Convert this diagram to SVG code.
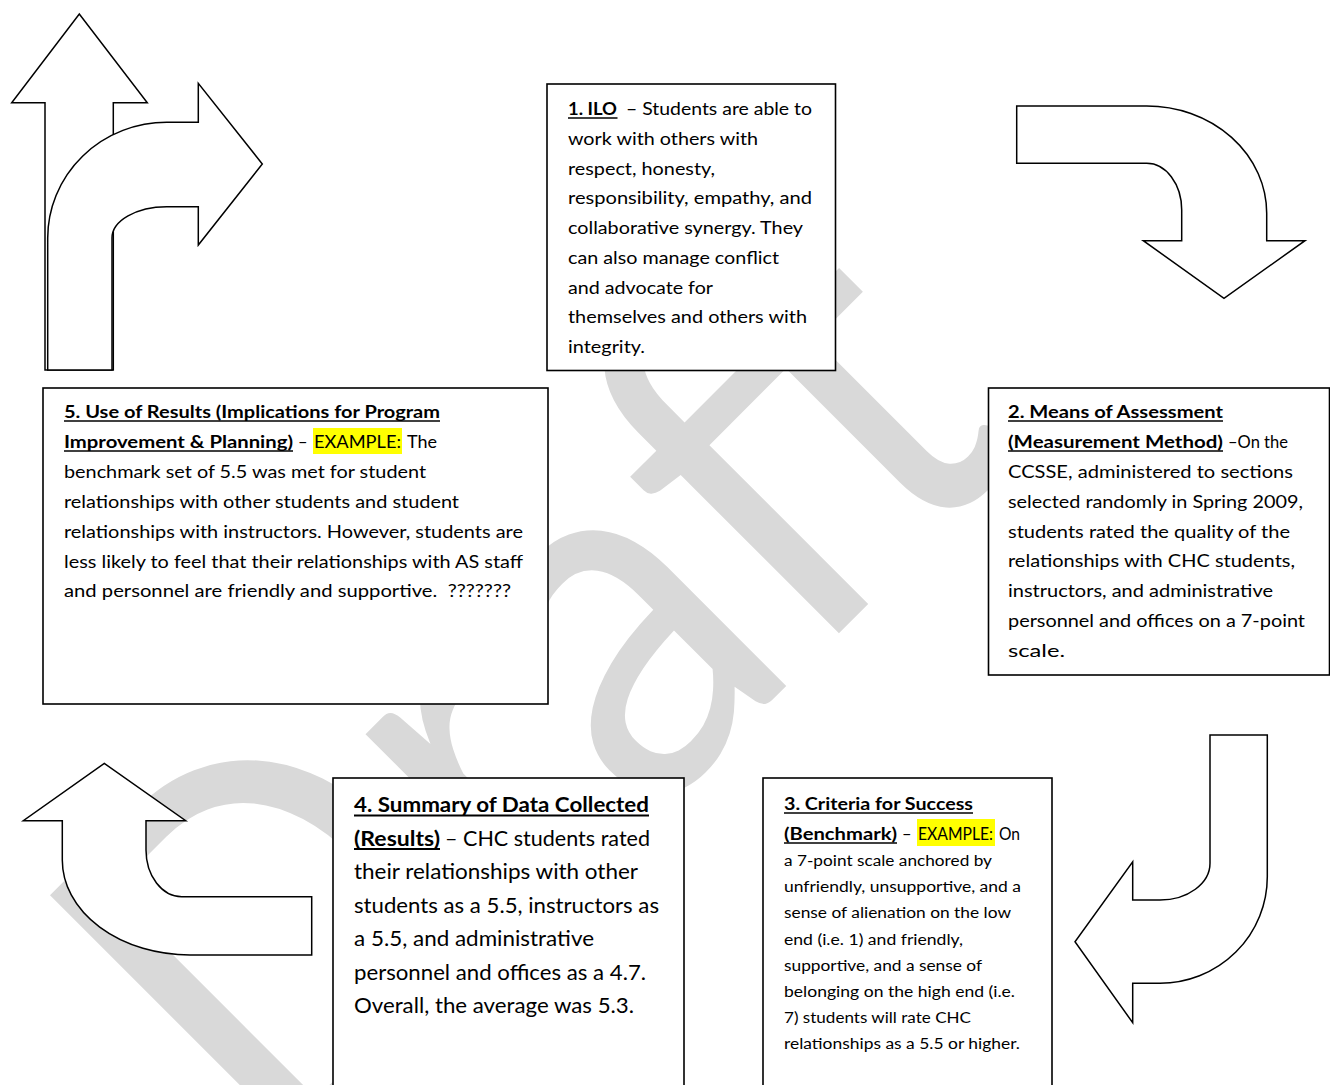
<svg xmlns="http://www.w3.org/2000/svg" width="1330" height="1085" viewBox="0 0 1330 1085">
<style>
.t{font-family:Lato,"Open Sans","Liberation Sans",sans-serif;font-size:16.5px;fill:#000;white-space:pre}
.b{font-weight:bold}
.l{font-size:20.5px}
.s{font-size:14.6px}
.box{fill:#fff;stroke:#000;stroke-width:1.6}
.ul{stroke:#000;stroke-width:1.4}
.ulw{stroke:#000;stroke-width:1.8}
.hl{fill:#ffff00}
.arr{fill:#fff;stroke:#000;stroke-width:1.5;stroke-linejoin:miter}
.wm{font-family:Lato,"Open Sans",sans-serif;font-size:520px;fill:#d9d9d9}
</style>
<rect width="1330" height="1085" fill="#fff"/>
<g id="watermark">
<text class="wm" transform="rotate(-45)" x="-640" y="1041" textLength="1054" lengthAdjust="spacingAndGlyphs">Draft</text>
</g>
<g id="connectors">
<path id="arrow-up" class="arr" d="M45,370 L45,102.7 L11.7,102.7 L79.3,14 L147.3,102.7 L113.3,102.7 L113.3,370 Z"/>
<path id="arrow-right-turn" class="arr" d="M47.7,370 L47.7,238 A119,115.7 0 0 1 166.7,122.3 L198.3,122.3 L198.3,83.3 L262.3,164 L198.3,245 L198.3,206.7 L166.7,206.7 A54.7,31.3 0 0 0 112,238 L112,370 Z"/>
<path id="arrow-top-right" class="arr" d="M1016.7,106 L1146.7,106 A120,107.3 0 0 1 1266.7,213.3 L1266.7,240.7 L1305,240.7 L1224,298.3 L1143.3,240.7 L1181.7,240.7 L1181.7,210 A35,46.7 0 0 0 1146.7,163.3 L1016.7,163.3 Z"/>
<path id="arrow-bottom-right" class="arr" d="M1210,735 L1267.3,735 L1267.3,876.7 A107.3,106.7 0 0 1 1160,983.3 L1132.7,983.3 L1132.7,1022.7 L1075,941.7 L1132.7,861.7 L1132.7,900 L1160,900 A50,36.7 0 0 0 1210,863.3 Z"/>
<path id="arrow-bottom-left" class="arr" d="M311.7,896.7 L181.7,896.7 A35.7,46.7 0 0 1 146,850 L146,820.7 L185.7,820.7 L104.3,763.3 L23.3,820.7 L62.3,820.7 L62.3,860 A127.7,95 0 0 0 190,955 L311.7,955 Z"/>
</g>
<g id="node-1-ilo">
<rect class="box" x="547" y="84" width="288.5" height="286.5"/>
<text class="t b" x="568" y="115" textLength="49" lengthAdjust="spacingAndGlyphs">1. ILO</text>
<line class="ul" x1="568" y1="118" x2="617.5" y2="118"/>
<text class="t" x="626" y="115" textLength="186" lengthAdjust="spacingAndGlyphs">– Students are able to</text>
<text class="t" x="568" y="144.8" textLength="190" lengthAdjust="spacingAndGlyphs">work with others with</text>
<text class="t" x="568" y="174.5" textLength="147" lengthAdjust="spacingAndGlyphs">respect, honesty,</text>
<text class="t" x="568" y="204.3" textLength="244" lengthAdjust="spacingAndGlyphs">responsibility, empathy, and</text>
<text class="t" x="568" y="234" textLength="235" lengthAdjust="spacingAndGlyphs">collaborative synergy. They</text>
<text class="t" x="568" y="263.8" textLength="211" lengthAdjust="spacingAndGlyphs">can also manage conflict</text>
<text class="t" x="568" y="293.5" textLength="145" lengthAdjust="spacingAndGlyphs">and advocate for</text>
<text class="t" x="568" y="323.3" textLength="239" lengthAdjust="spacingAndGlyphs">themselves and others with</text>
<text class="t" x="568" y="353" textLength="77" lengthAdjust="spacingAndGlyphs">integrity.</text>
</g>
<g id="node-2-means">
<rect class="box" x="988.5" y="388" width="341" height="287"/>
<text class="t b" x="1008" y="418" textLength="215" lengthAdjust="spacingAndGlyphs">2. Means of Assessment</text>
<line class="ul" x1="1008" y1="421" x2="1223" y2="421"/>
<text class="t b" x="1008" y="448" textLength="215" lengthAdjust="spacingAndGlyphs">(Measurement Method)</text>
<line class="ul" x1="1008" y1="451" x2="1223" y2="451"/>
<text class="t" x="1228" y="448" textLength="60" lengthAdjust="spacingAndGlyphs">–On the</text>
<text class="t" x="1008" y="478" textLength="285" lengthAdjust="spacingAndGlyphs">CCSSE, administered to sections</text>
<text class="t" x="1008" y="507.8" textLength="295" lengthAdjust="spacingAndGlyphs">selected randomly in Spring 2009,</text>
<text class="t" x="1008" y="537.5" textLength="282" lengthAdjust="spacingAndGlyphs">students rated the quality of the</text>
<text class="t" x="1008" y="567.3" textLength="287" lengthAdjust="spacingAndGlyphs">relationships with CHC students,</text>
<text class="t" x="1008" y="597" textLength="265" lengthAdjust="spacingAndGlyphs">instructors, and administrative</text>
<text class="t" x="1008" y="626.8" textLength="297" lengthAdjust="spacingAndGlyphs">personnel and offices on a 7-point</text>
<text class="t" x="1008" y="656.5" textLength="57" lengthAdjust="spacingAndGlyphs">scale.</text>
</g>
<g id="node-3-criteria">
<rect class="box" x="763" y="778" width="289" height="320"/>
<text class="t b" x="784" y="810" textLength="189" lengthAdjust="spacingAndGlyphs">3. Criteria for Success</text>
<line class="ul" x1="784" y1="813" x2="973" y2="813"/>
<text class="t b" x="784" y="840" textLength="113" lengthAdjust="spacingAndGlyphs">(Benchmark)</text>
<line class="ul" x1="784" y1="843" x2="897" y2="843"/>
<text class="t" x="902" y="840">–</text>
<rect class="hl" x="917" y="819" width="78" height="27"/>
<text class="t" x="918" y="840" textLength="75" lengthAdjust="spacingAndGlyphs">EXAMPLE:</text>
<text class="t" x="999" y="840" textLength="21" lengthAdjust="spacingAndGlyphs">On</text>
<text class="t s" x="784" y="866" textLength="208" lengthAdjust="spacingAndGlyphs">a 7-point scale anchored by</text>
<text class="t s" x="784" y="892" textLength="237" lengthAdjust="spacingAndGlyphs">unfriendly, unsupportive, and a</text>
<text class="t s" x="784" y="918" textLength="227" lengthAdjust="spacingAndGlyphs">sense of alienation on the low</text>
<text class="t s" x="784" y="945" textLength="179" lengthAdjust="spacingAndGlyphs">end (i.e. 1) and friendly,</text>
<text class="t s" x="784" y="971" textLength="198" lengthAdjust="spacingAndGlyphs">supportive, and a sense of</text>
<text class="t s" x="784" y="997" textLength="231" lengthAdjust="spacingAndGlyphs">belonging on the high end (i.e.</text>
<text class="t s" x="784" y="1023" textLength="187" lengthAdjust="spacingAndGlyphs">7) students will rate CHC</text>
<text class="t s" x="784" y="1049" textLength="236" lengthAdjust="spacingAndGlyphs">relationships as a 5.5 or higher.</text>
</g>
<g id="node-4-summary">
<rect class="box" x="333" y="778" width="351" height="320"/>
<text class="t l b" x="354" y="812" textLength="295" lengthAdjust="spacingAndGlyphs">4. Summary of Data Collected</text>
<line class="ulw" x1="354" y1="815.5" x2="649" y2="815.5"/>
<text class="t l b" x="354" y="846" textLength="86" lengthAdjust="spacingAndGlyphs">(Results)</text>
<line class="ulw" x1="354" y1="849" x2="440" y2="849"/>
<text class="t l" x="445" y="846" textLength="205" lengthAdjust="spacingAndGlyphs">– CHC students rated</text>
<text class="t l" x="354" y="879" textLength="284" lengthAdjust="spacingAndGlyphs">their relationships with other</text>
<text class="t l" x="354" y="913" textLength="305" lengthAdjust="spacingAndGlyphs">students as a 5.5, instructors as</text>
<text class="t l" x="354" y="946" textLength="240" lengthAdjust="spacingAndGlyphs">a 5.5, and administrative</text>
<text class="t l" x="354" y="980" textLength="292" lengthAdjust="spacingAndGlyphs">personnel and offices as a 4.7.</text>
<text class="t l" x="354" y="1013" textLength="280" lengthAdjust="spacingAndGlyphs">Overall, the average was 5.3.</text>
</g>
<g id="node-5-use">
<rect class="box" x="43" y="388" width="505" height="316"/>
<text class="t b" x="64" y="418" textLength="376" lengthAdjust="spacingAndGlyphs">5. Use of Results (Implications for Program</text>
<line class="ul" x1="64" y1="421" x2="440" y2="421"/>
<text class="t b" x="64" y="448" textLength="229" lengthAdjust="spacingAndGlyphs">Improvement &amp; Planning)</text>
<line class="ul" x1="64" y1="451" x2="293" y2="451"/>
<text class="t" x="298" y="448">–</text>
<rect class="hl" x="313" y="428" width="89" height="26"/>
<text class="t" x="314" y="448" textLength="87" lengthAdjust="spacingAndGlyphs">EXAMPLE:</text>
<text class="t" x="407" y="448" textLength="30" lengthAdjust="spacingAndGlyphs">The</text>
<text class="t" x="64" y="478" textLength="362" lengthAdjust="spacingAndGlyphs">benchmark set of 5.5 was met for student</text>
<text class="t" x="64" y="508" textLength="395" lengthAdjust="spacingAndGlyphs">relationships with other students and student</text>
<text class="t" x="64" y="538" textLength="459" lengthAdjust="spacingAndGlyphs">relationships with instructors. However, students are</text>
<text class="t" x="64" y="567.5" textLength="459" lengthAdjust="spacingAndGlyphs">less likely to feel that their relationships with AS staff</text>
<text class="t" x="64" y="597" textLength="447" lengthAdjust="spacingAndGlyphs">and personnel are friendly and supportive.  ???????</text>
</g>
</svg>
